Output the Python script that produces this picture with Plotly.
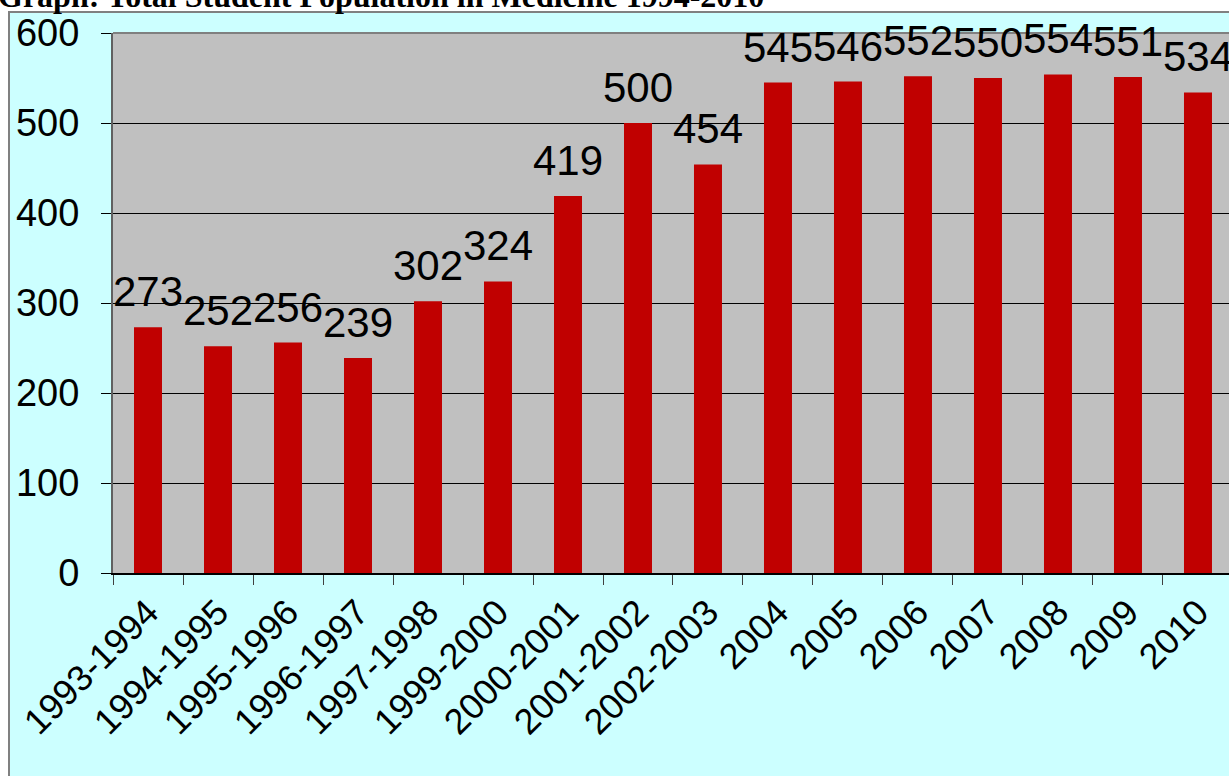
import plotly.graph_objects as go

categories = ["1993-1994", "1994-1995", "1995-1996", "1996-1997", "1997-1998",
              "1999-2000", "2000-2001", "2001-2002", "2002-2003", "2004",
              "2005", "2006", "2007", "2008", "2009", "2010"]
values = [273, 252, 256, 239, 302, 324, 419, 500, 454, 545, 546, 552, 550, 554, 551, 534]
y_ticks = [0, 100, 200, 300, 400, 500, 600]
title_text = "Graph: Total Student Population in Medicine 1994-2010"

W, H = 1229, 776
L, R, T, B = 113, 0, 33, 203
pw = W - L - R
ph = H - T - B

def px_x(x):
    return (x - L) / pw

def px_y(y):
    return (H - B - y) / ph

fig = go.Figure()
fig.add_trace(go.Bar(
    x=categories, y=values, width=0.4,
    marker=dict(color="#C00000", line=dict(width=0)),
    hoverinfo="x+y",
))

annotations = []
for i, v in enumerate(values):
    annotations.append(dict(
        x=i, y=v, xref="x", yref="y", text=str(v), showarrow=False,
        yanchor="bottom", xanchor="center", yshift=10,
        font=dict(family="Liberation Sans, Arial", size=42, color="black"),
    ))
annotations.append(dict(
    x=px_x(-4), y=px_y(6), xref="paper", yref="paper", text="<b>" + title_text + "</b>",
    showarrow=False, xanchor="left", yanchor="bottom", yshift=-10,
    font=dict(family="Liberation Serif, Times New Roman", size=32, color="black"),
))

shapes = [
    dict(type="rect", xref="paper", yref="paper", layer="below",
         x0=px_x(9), x1=1.2, y0=px_y(800), y1=px_y(12),
         fillcolor="#CCFFFF", line=dict(color="#808080", width=2)),
    dict(type="rect", xref="paper", yref="paper", layer="below",
         x0=0, x1=1.05, y0=0, y1=1,
         fillcolor="#C0C0C0", line=dict(width=0)),
    dict(type="line", xref="paper", yref="paper", layer="above",
         x0=0, x1=1.05, y0=1, y1=1, line=dict(color="#808080", width=2)),
]

fig.update_layout(
    width=W, height=H,
    margin=dict(l=L, r=R, t=T, b=B, autoexpand=False),
    paper_bgcolor="white",
    plot_bgcolor="rgba(0,0,0,0)",
    showlegend=False,
    annotations=annotations,
    shapes=shapes,
    xaxis=dict(
        type="category", range=[-0.5, 15.443], tickson="boundaries",
        ticks="outside", ticklen=10, tickcolor="#404040", tickwidth=1,
        tickangle=-45, showgrid=False, zeroline=False,
        showline=True, linecolor="black", linewidth=1.5,
        tickfont=dict(family="Liberation Sans, Arial", size=36, color="black"),
        automargin=False, ticklabelstandoff=2,
    ),
    yaxis=dict(
        range=[0, 600], tickvals=y_ticks, ticktext=[str(t) for t in y_ticks],
        ticks="outside", ticklen=10, tickcolor="black", tickwidth=1,
        showgrid=True, gridcolor="black", gridwidth=1, zeroline=False,
        showline=True, linecolor="#606060", linewidth=2,
        tickfont=dict(family="Liberation Sans, Arial", size=38, color="black"),
        automargin=False, ticklabelstandoff=14,
    ),
)

fig.write_html(
    "out.html",
    config={"displayModeBar": False},
    post_script="document.body.style.margin='0';document.body.style.overflow='hidden';",
)
